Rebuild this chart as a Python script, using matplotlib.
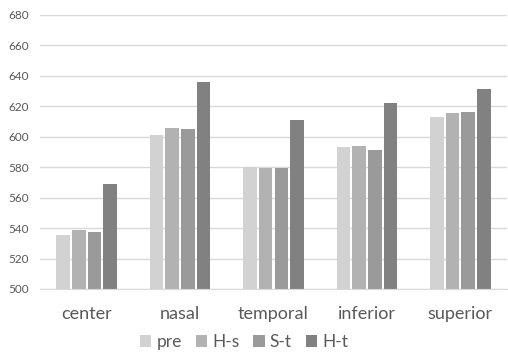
import matplotlib
matplotlib.use("Agg")
import matplotlib.pyplot as plt
import numpy as np

categories = ["center", "nasal", "temporal", "inferior", "superior"]
series_names = ["pre", "H-s", "S-t", "H-t"]
pre = [535.5, 601.0, 580.0, 593.2, 612.7]
h_s = [538.8, 606.0, 579.6, 593.9, 615.3]
s_t = [537.7, 605.4, 579.6, 591.0, 616.2]
h_t = [569.3, 635.7, 611.0, 621.9, 631.4]
yticks = [500, 520, 540, 560, 580, 600, 620, 640, 660, 680]

colors = ["#d2d2d2", "#b2b2b2", "#9a9a9a", "#818181"]
text_color = "#595959"

plt.rcParams['font.family'] = ['Lato', 'DejaVu Sans']

fig = plt.figure(figsize=(5.08, 3.54), dpi=100)
ax = fig.add_axes([40 / 508, 1 - 289 / 354, 467 / 508, 274 / 354])

x = np.arange(len(categories))
step = 0.168
width = 0.145
for i, (name, vals) in enumerate(zip(series_names, [pre, h_s, s_t, h_t])):
    ax.bar(x + (i - 1.5) * step, np.array(vals) - 500, bottom=500, width=width,
           color=colors[i], label=name, zorder=2)

ax.set_xlim(-0.5, len(categories) - 0.5)
ax.set_ylim(500, 680)
ax.set_yticks(yticks)
ax.yaxis.grid(True, color="#d9d9d9", linewidth=1.0, zorder=0)
ax.set_axisbelow(True)
for s in ["top", "right", "left"]:
    ax.spines[s].set_visible(False)
ax.spines["bottom"].set_color("#d9d9d9")
ax.tick_params(axis="y", length=0, labelsize=8.5, labelcolor=text_color, pad=8)
ax.tick_params(axis="x", length=0, labelsize=13, labelcolor=text_color, pad=12)
ax.set_xticks(x)
ax.set_xticklabels(categories)

leg = fig.legend(loc="center", bbox_to_anchor=(244 / 508, 1 - 342 / 354), ncol=4,
                 frameon=False, fontsize=12.5, handlelength=0.65, handleheight=0.65,
                 handletextpad=0.3, columnspacing=0.8, borderpad=0)
for t in leg.get_texts():
    t.set_color(text_color)

fig.savefig("out.png", dpi=100)
